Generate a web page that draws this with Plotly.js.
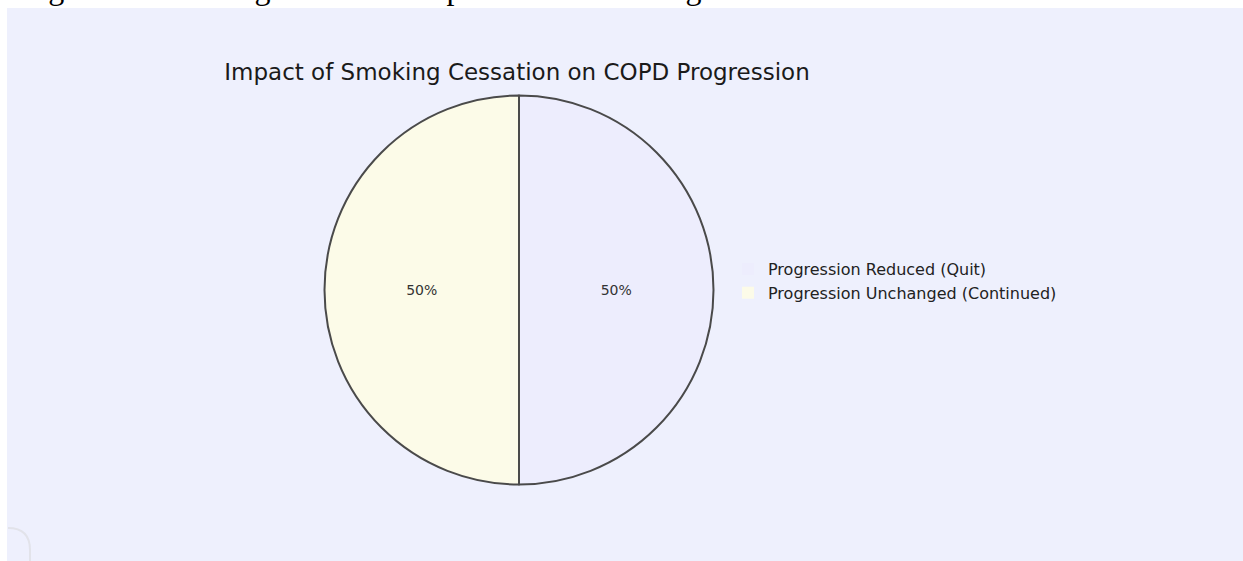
<!DOCTYPE html>
<html>
<head>
<meta charset="utf-8">
<script src="https://cdn.plot.ly/plotly-3.0.1.min.js"></script>
<style>
html,body{margin:0;padding:0;background:#fff;overflow:hidden;}
#chart{width:1243px;height:561px;}
</style>
</head>
<body>
<div id="chart"></div>
<script>
const categories = ["Progression Reduced (Quit)", "Progression Unchanged (Continued)"];
const values = [50, 50];
const sliceColors = ["#EDEDFD", "#FCFBE8"];
const chartTitle = "Impact of Smoking Cessation on COPD Progression";
const captionText = "Diagram 4: Smoking Cessation Impact on COPD Progression";

const W = 1243, H = 561;
const px = x => x / W;
const py = y => 1 - y / H;

const cx = 519, cy = 290, r = 194.5;
const pieDomain = { x: [px(cx - r), px(cx + r)], y: [py(cy + r), py(cy - r)] };

// filled slices (also provide legend swatches without stroke)
const fillTrace = {
  type: "pie",
  labels: categories,
  values: values,
  sort: false,
  direction: "clockwise",
  rotation: 0,
  marker: { colors: sliceColors, line: { width: 0 } },
  textinfo: "percent",
  textposition: "inside",
  insidetextorientation: "horizontal",
  textfont: { family: "DejaVu Sans", size: 14, color: "#333333" },
  hoverinfo: "label+percent",
  showlegend: true,
  domain: pieDomain
};

// outline of the slices
const outlineTrace = {
  type: "pie",
  labels: categories,
  values: values,
  sort: false,
  direction: "clockwise",
  rotation: 0,
  marker: { colors: ["rgba(0,0,0,0)", "rgba(0,0,0,0)"], line: { color: "#4a4a4a", width: 2 } },
  textinfo: "none",
  hoverinfo: "skip",
  showlegend: false,
  domain: pieDomain
};

const layout = {
  width: W, height: H,
  margin: { l: 0, r: 0, t: 0, b: 0, pad: 0 },
  paper_bgcolor: "#ffffff",
  showlegend: true,
  legend: {
    x: px(728), xanchor: "left",
    y: py(281), yanchor: "middle",
    bgcolor: "rgba(0,0,0,0)",
    font: { family: "DejaVu Sans", size: 16, color: "#222222" },
    tracegroupgap: 0
  },
  title: {
    text: chartTitle,
    font: { family: "DejaVu Sans", size: 23, color: "#1a1a1a" },
    x: px(517), xanchor: "center",
    xref: "paper",
    y: py(72), yanchor: "middle", yref: "paper"
  },
  shapes: [
    { type: "rect", xref: "paper", yref: "paper", x0: px(7), x1: 1, y0: 0, y1: py(8),
      fillcolor: "#EEF0FD", line: { width: 0 }, layer: "below" },
    { type: "path", xref: "paper", yref: "paper",
      path: "M " + px(8) + "," + py(528) + " Q " + px(30) + "," + py(528) + " " + px(30) + "," + py(550) + " L " + px(30) + "," + py(561),
      line: { color: "#e2e3ea", width: 2 }, layer: "above" }
  ],
  annotations: [
    { text: captionText, xref: "paper", yref: "paper", x: 0, xanchor: "left",
      y: py(8.5), yanchor: "bottom", showarrow: false,
      font: { family: "Liberation Serif", size: 32, color: "#000000" } }
  ]
};

Plotly.newPlot("chart", [fillTrace, outlineTrace], layout, { displayModeBar: false, staticPlot: true });
</script>
</body>
</html>
